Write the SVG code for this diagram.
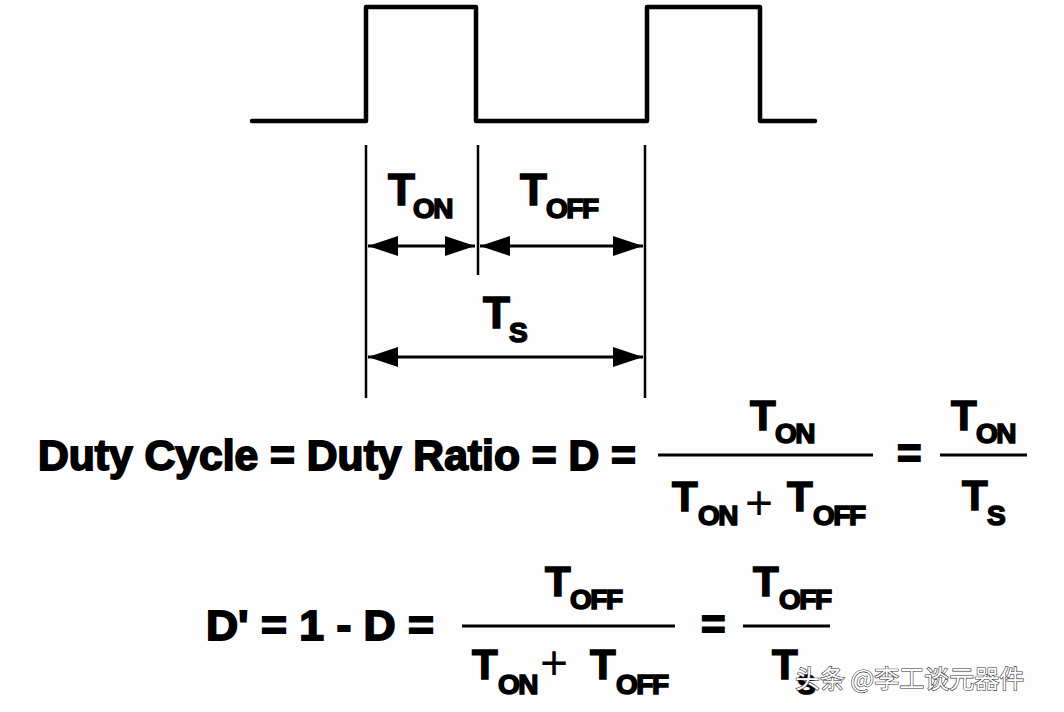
<svg xmlns="http://www.w3.org/2000/svg" width="1064" height="712" viewBox="0 0 1064 712">
<defs>
<style>
.bg{fill:#fdfdfd}
.wave{fill:none;stroke:#000;stroke-width:4.5;stroke-linejoin:round;stroke-linecap:round}
.dim{stroke:#000;stroke-width:2.5;fill:none}
.arr{stroke:#000;stroke-width:3;fill:none}
.bar{stroke:#000;stroke-width:3;fill:none}
.T{font-family:"Liberation Sans",Arial,sans-serif;font-weight:bold;font-size:44px;fill:#000;stroke:#000;stroke-width:1.5}
.TF{font-family:"Liberation Sans",Arial,sans-serif;font-weight:bold;font-size:42px;fill:#000;stroke:#000;stroke-width:1.5}
.sub{font-family:"Liberation Sans",Arial,sans-serif;font-weight:bold;font-size:28px;letter-spacing:-1.5px;fill:#000;stroke:#000;stroke-width:1.6}
.eq{font-family:"Liberation Sans",Arial,sans-serif;font-weight:bold;font-size:42px;fill:#000;stroke:#000;stroke-width:1.8}
.plus{font-family:"Liberation Sans",Arial,sans-serif;font-weight:normal;font-size:48px;fill:#000}
.wm{font-family:"Noto Sans CJK SC","Liberation Sans",sans-serif;font-size:25px;fill:#fff;stroke:#333;stroke-width:1.2;paint-order:stroke}
</style>
<marker id="ah" viewBox="0 0 30 20" refX="30" refY="10" markerWidth="30" markerHeight="20" markerUnits="userSpaceOnUse" orient="auto-start-reverse">
<path d="M0,0 L30,10 L0,20 Z" fill="#000"/>
</marker>
</defs>
<rect class="bg" x="0" y="0" width="1064" height="712"/>

<g id="waveform">
<path class="wave" d="M252,121 H366 V7 H476 V121 H647 V7 H760 V121 H815"/>
</g>

<g id="dimension-lines">
<line class="dim" x1="366" y1="145" x2="366" y2="398"/>
<line class="dim" x1="478" y1="145" x2="478" y2="275"/>
<line class="dim" x1="645" y1="145" x2="645" y2="398"/>
</g>

<g id="connectors">
<line class="arr" x1="368" y1="246" x2="475" y2="246" marker-start="url(#ah)" marker-end="url(#ah)"/>
<line class="arr" x1="480" y1="246" x2="643" y2="246" marker-start="url(#ah)" marker-end="url(#ah)"/>
<line class="arr" x1="368" y1="357" x2="643" y2="357" marker-start="url(#ah)" marker-end="url(#ah)"/>
</g>

<g id="label-ton">
<text class="T" x="388" y="205">T</text><text class="sub" x="413" y="218">ON</text>
</g>
<g id="label-toff">
<text class="T" x="520" y="205">T</text><text class="sub" x="546" y="218">OFF</text>
</g>
<g id="label-ts">
<text class="T" x="483" y="328">T</text><text class="sub" x="509" y="342">S</text>
</g>

<g id="equation-1">
<text class="eq" x="38" y="470" textLength="598" lengthAdjust="spacingAndGlyphs">Duty Cycle = Duty Ratio = D =</text>
<text class="TF" x="750" y="430">T</text><text class="sub" x="775" y="443">ON</text>
<line class="bar" x1="658" y1="455" x2="873" y2="455"/>
<text class="TF" x="672" y="511">T</text><text class="sub" x="698" y="525">ON</text>
<text class="plus" x="745" y="519">+</text>
<text class="TF" x="787" y="511">T</text><text class="sub" x="813" y="525">OFF</text>
<text class="eq" x="897" y="468">=</text>
<text class="TF" x="951" y="430">T</text><text class="sub" x="976" y="443">ON</text>
<line class="bar" x1="940" y1="455" x2="1027" y2="455"/>
<text class="TF" x="962" y="510">T</text><text class="sub" x="987" y="525">S</text>
</g>

<g id="equation-2">
<text class="eq" x="206" y="640" textLength="228" lengthAdjust="spacingAndGlyphs">D' = 1 - D =</text>
<text class="TF" x="545" y="596">T</text><text class="sub" x="570" y="609">OFF</text>
<line class="bar" x1="462" y1="626" x2="675" y2="626"/>
<text class="TF" x="472" y="679">T</text><text class="sub" x="498" y="694">ON</text>
<text class="plus" x="540" y="679">+</text>
<text class="TF" x="590" y="679">T</text><text class="sub" x="616" y="694">OFF</text>
<text class="eq" x="701" y="639">=</text>
<text class="TF" x="753" y="596">T</text><text class="sub" x="779" y="609">OFF</text>
<line class="bar" x1="743" y1="626" x2="830" y2="626"/>
<text class="TF" x="772" y="679">T</text><text class="sub" x="797" y="694">S</text>
</g>

<g id="watermark">
<text class="wm" x="795" y="688">头条 @李工谈元器件</text>
</g>
</svg>
